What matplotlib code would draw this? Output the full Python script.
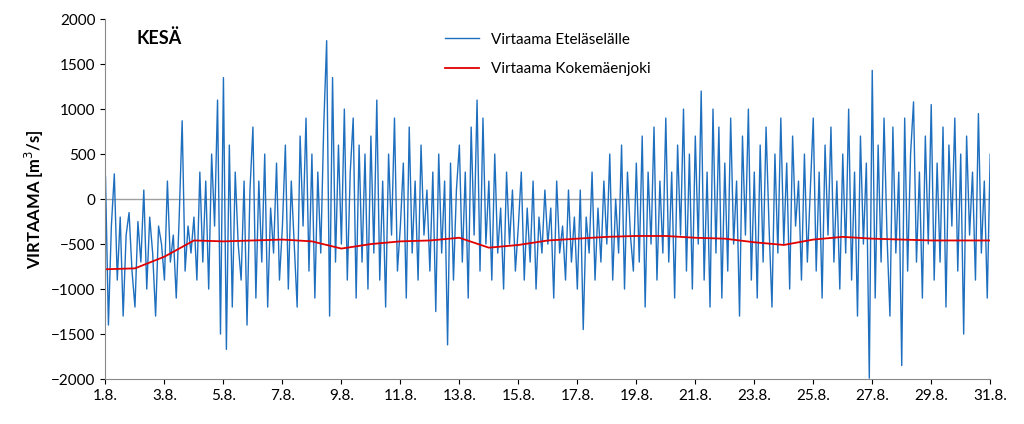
import matplotlib
matplotlib.use("Agg")
import matplotlib.pyplot as plt
import numpy as np

plt.rcParams["font.family"] = "Lato"

etelaselalle = [
250,-1400,-300,280,-900,-200,-1300,-400,-150,-800,
-1200,-250,-700,100,-1000,-200,-600,-1300,-300,-500,
-900,200,-700,-400,-1100,-200,870,-800,-300,-600,
-200,-900,300,-700,200,-1000,500,-300,1100,-1500,
1350,-1670,600,-1200,300,-500,-900,200,-1400,100,
800,-1100,200,-700,500,-1200,-100,-600,400,-900,
-300,600,-1000,200,-500,-1200,700,-300,900,-800,
500,-1100,300,-600,800,1760,-1300,1350,-700,600,
-500,1000,-900,300,900,-1100,600,-700,500,-1000,
700,-600,1100,-900,200,-1200,500,-400,900,-800,
-300,400,-1100,800,-600,200,-900,600,-400,100,
-800,300,-1250,500,-600,200,-1620,400,-900,100,
600,-700,300,-1100,800,-400,1100,-800,900,-500,
200,-900,500,-600,-100,-1000,300,-500,100,-800,
-300,300,-900,-100,-700,200,-1000,-200,-600,100,
-500,-100,-1100,200,-600,-300,-900,100,-700,-200,
-1000,100,-1450,-200,-600,300,-900,-100,-700,200,
-500,500,-900,0,-600,600,-1000,300,-400,-800,
400,-700,700,-1200,300,-500,800,-900,200,-600,
900,-700,300,-1100,600,-400,1000,-800,500,-1000,
700,-500,1200,-900,300,-1200,1000,-600,800,-1100,
400,-800,900,-500,200,-1300,700,-400,1000,-900,
300,-1100,600,-700,800,-300,-1200,500,-600,900,
-500,400,-1000,700,-300,200,-900,500,-700,100,
900,-800,300,-1100,600,-400,800,-700,200,-1000,
500,-600,1000,-900,300,-1300,700,-500,400,-1990,
1430,-1100,600,-700,900,-400,-1300,800,-600,300,
-1850,900,-800,500,1080,-700,300,-1100,700,-500,
1050,-900,400,-700,800,-1200,600,-300,900,-800,
500,-1500,700,-400,300,-900,950,-600,200,-1100,
500,-1000,300]
kokemaenjoki = [-780,-770,-640,-460,-470,-460,-450,-470,-550,-500,-470,-460,-430,
                -540,-510,-460,-440,-420,-410,-410,-430,-440,-480,-510,-450,-420,-440,
                -450,-460,-460,-460]
tick_labels = ["1.8.","3.8.","5.8.","7.8.","9.8.","11.8.","13.8.","15.8.","17.8.",
               "19.8.","21.8.","23.8.","25.8.","27.8.","29.8.","31.8."]

x_blue = 1 + np.arange(len(etelaselalle)) / 10
x_red = np.arange(1, len(kokemaenjoki) + 1)

fig = plt.figure(figsize=(10.24, 4.24), dpi=100)
ax = fig.add_axes([0.103, 0.106, 0.864, 0.849])
ax.axhline(0, color="#a0a0a0", lw=1)
ax.plot(x_blue, etelaselalle, color="#1f6fbf", lw=1, label="Virtaama Eteläselälle")
ax.plot(x_red, kokemaenjoki, color="#e00000", lw=1.3, label="Virtaama Kokemäenjoki")
ax.set_xlim(1, 31)
ax.set_ylim(-2000, 2000)
ax.set_yticks(range(-2000, 2001, 500))
ax.set_xticks(range(1, 32, 2))
ax.set_xticklabels(tick_labels)
ax.tick_params(labelsize=11, direction="out")
for s in ["top", "right"]:
    ax.spines[s].set_visible(False)
ax.spines["left"].set_color("#888888")
ax.spines["bottom"].set_color("#888888")
ax.set_ylabel("VIRTAAMA [m$^3$/s]", fontsize=12, fontweight="bold")
ax.text(0.035, 0.93, "KESÄ", transform=ax.transAxes, fontsize=13, fontweight="bold")
ax.legend(loc="upper center", bbox_to_anchor=(0.5, 1.0), frameon=False, fontsize=11,
          handlelength=2.2, labelspacing=1.0)
fig.savefig("out.png", dpi=100)
